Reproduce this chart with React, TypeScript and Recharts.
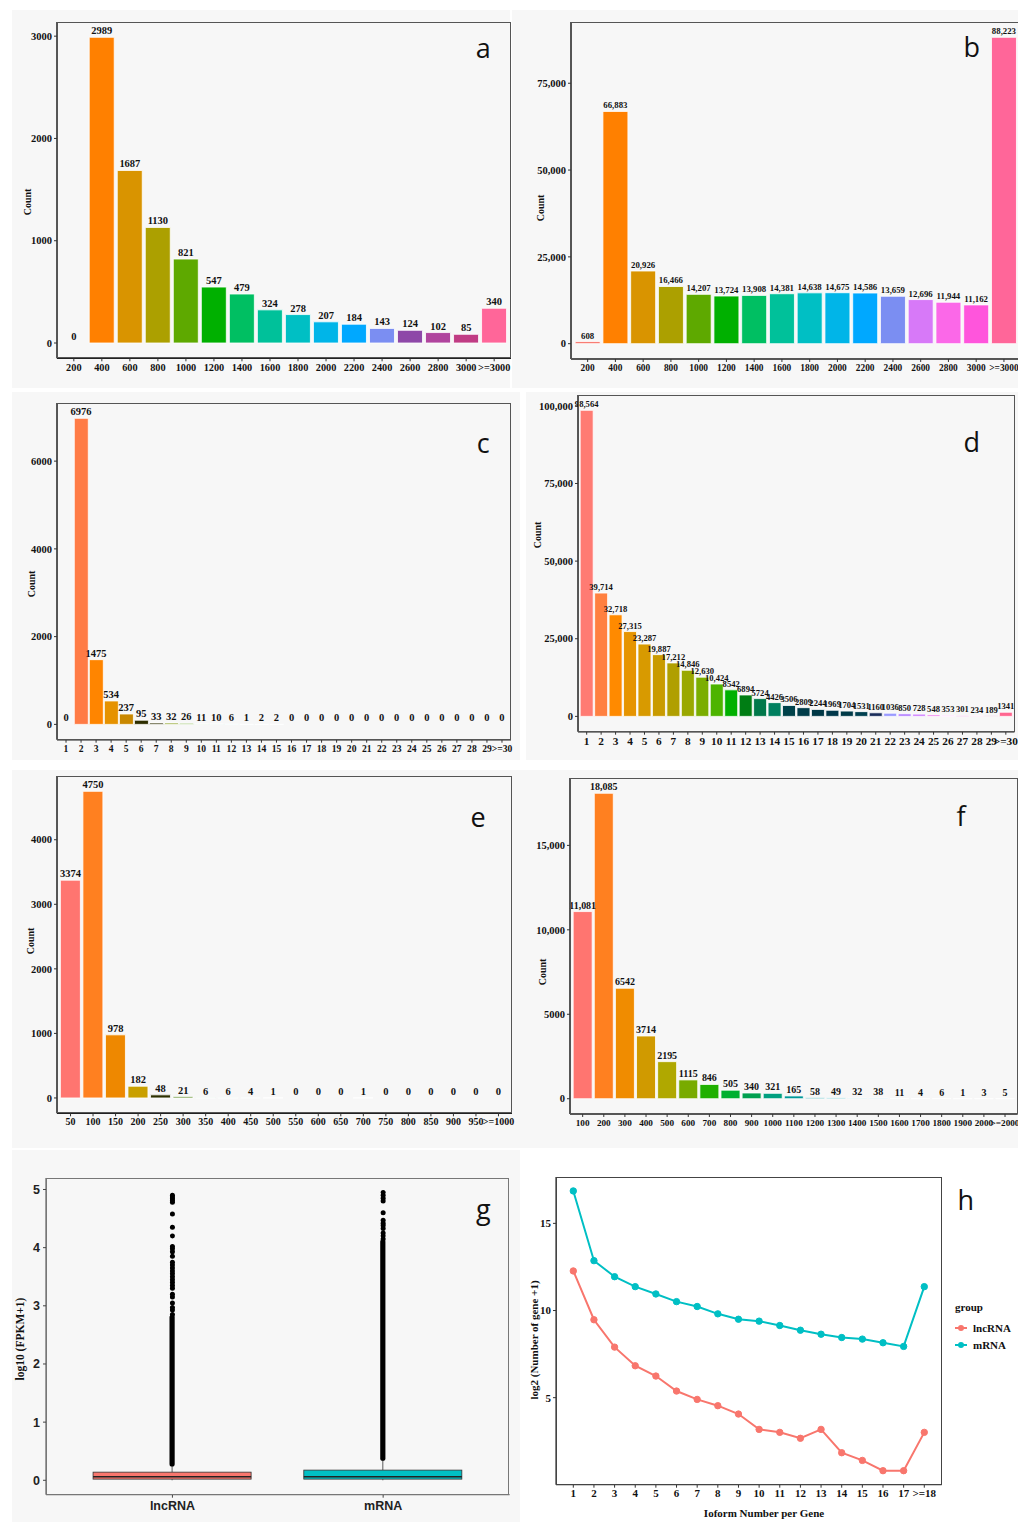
import React from 'react';
import { Bar, XAxis, YAxis, Cell, ComposedChart, Scatter, LineChart, Line } from 'recharts';

// ---------------- DATA ----------------
const aCats = ['200', '400', '600', '800', '1000', '1200', '1400', '1600', '1800', '2000', '2200', '2400', '2600', '2800', '3000', '>=3000'];
const aValues = [0, 2989, 1687, 1130, 821, 547, 479, 324, 278, 207, 184, 143, 124, 102, 85, 340];

const bCats = ['200', '400', '600', '800', '1000', '1200', '1400', '1600', '1800', '2000', '2200', '2400', '2600', '2800', '3000', '>=3000'];
const bValues = [608, 66883, 20926, 16466, 14207, 13724, 13908, 14381, 14638, 14675, 14586, 13659, 12696, 11944, 11162, 88223];

const cCats = ['1', '2', '3', '4', '5', '6', '7', '8', '9', '10', '11', '12', '13', '14', '15', '16', '17', '18', '19', '20', '21', '22', '23', '24', '25', '26', '27', '28', '29', '>=30'];
const cValues = [0, 6976, 1475, 534, 237, 95, 33, 32, 26, 11, 10, 6, 1, 2, 2, 0, 0, 0, 0, 0, 0, 0, 0, 0, 0, 0, 0, 0, 0, 0];

const dCats = ['1', '2', '3', '4', '5', '6', '7', '8', '9', '10', '11', '12', '13', '14', '15', '16', '17', '18', '19', '20', '21', '22', '23', '24', '25', '26', '27', '28', '29', '>=30'];
const dValues = [98564, 39714, 32718, 27315, 23287, 19887, 17212, 14846, 12630, 10424, 8542, 6894, 5724, 4426, 3506, 2809, 2244, 1969, 1704, 1531, 1160, 1036, 850, 728, 548, 353, 301, 234, 189, 1341];

const eCats = ['50', '100', '150', '200', '250', '300', '350', '400', '450', '500', '550', '600', '650', '700', '750', '800', '850', '900', '950', '>=1000'];
const eValues = [3374, 4750, 978, 182, 48, 21, 6, 6, 4, 1, 0, 0, 0, 1, 0, 0, 0, 0, 0, 0];

const fCats = ['100', '200', '300', '400', '500', '600', '700', '800', '900', '1000', '1100', '1200', '1300', '1400', '1500', '1600', '1700', '1800', '1900', '2000', '>=2000'];
const fValues = [11081, 18085, 6542, 3714, 2195, 1115, 846, 505, 340, 321, 165, 58, 49, 32, 38, 11, 4, 6, 1, 3, 5];

const gCats = ['lncRNA', 'mRNA'];
const gMin = [0, 0];
const gQ1 = [0.02, 0.02];
const gMedian = [0.06, 0.06];
const gQ3 = [0.14, 0.175];
const gWhiskerHi = [0.28, 0.38];
const gDenseLo = [0.28, 0.38];
const gDenseHi = [2.8, 4.1];
const gLncOutliers = [2.85, 2.93, 2.97, 3.05, 3.15, 3.2, 3.3, 3.35, 3.4, 3.45, 3.5, 3.55, 3.6, 3.65, 3.7, 3.75, 3.85, 3.93, 3.98, 4.02, 4.2, 4.35, 4.58, 4.78, 4.81, 4.84, 4.87, 4.9];
const gMrnaOutliers = [4.15, 4.2, 4.25, 4.33, 4.38, 4.42, 4.47, 4.6, 4.8, 4.85, 4.9, 4.95];

const hCats = ['1', '2', '3', '4', '5', '6', '7', '8', '9', '10', '11', '12', '13', '14', '15', '16', '17', '>=18'];
const hLnc = [12.27, 9.47, 7.9, 6.83, 6.24, 5.38, 4.9, 4.54, 4.06, 3.18, 3.01, 2.67, 3.18, 1.84, 1.4, 0.81, 0.81, 3.01];
const hMrna = [16.86, 12.86, 11.94, 11.37, 10.95, 10.51, 10.23, 9.81, 9.5, 9.39, 9.14, 8.87, 8.64, 8.45, 8.36, 8.15, 7.94, 11.37];

// ---------------- STYLES ----------------
const aColors = ['#F8766D', '#FF8000', '#D99400', '#ACA000', '#5EA900', '#00B000', '#00BF62', '#00C19A', '#00BFC4', '#00B5E8', '#00A8FF', '#7B8EF2', '#8E48A8', '#B0449E', '#C03C84', '#FF6699'];
const bColors = ['#F8766D', '#FF8000', '#D99400', '#ACA000', '#5EA900', '#00B000', '#00BF62', '#00C19A', '#00BFC4', '#00B5E8', '#00A8FF', '#7B8EF2', '#D779F8', '#FB68E8', '#FF55DC', '#FF6699'];
const cColors = ['#F8766D', '#FF7B45', '#FF8500', '#E69200', '#C98800', '#2E2E00', '#3A3A10', '#8EA52A', '#7CB342', '#A8D8A8', '#A8D8C8', '#B0E0D8', '#C8E8E0', '#D0ECE8', '#D8F0EC', '#ddd', '#ddd', '#ddd', '#ddd', '#ddd', '#ddd', '#ddd', '#ddd', '#ddd', '#ddd', '#ddd', '#ddd', '#ddd', '#ddd', '#ddd'];
const dColors = ['#FF7B73', '#FF8040', '#FF8A00', '#E69400', '#D89A00', '#C99B00', '#B09F00', '#9AA800', '#7BAE00', '#4DB400', '#00B000', '#007D14', '#00784A', '#008060', '#00424A', '#003D4A', '#003846', '#00384A', '#003A48', '#004050', '#1A2D5A', '#9A9AFF', '#B583FF', '#D183FF', '#F08AF0', '#FFB8FF', '#E070D0', '#FF99D8', '#C07AA8', '#FF6690'];
const eColors = ['#FF7570', '#FF8020', '#EE8800', '#C9A000', '#2C3000', '#5A8A20', '#90C8A0', '#A0D0B8', '#A8D8C8', '#B8E4E0', '#ccc', '#ccc', '#ccc', '#B8E4E0', '#ccc', '#ccc', '#ccc', '#ccc', '#ccc', '#ccc'];
const fColors = ['#FF7570', '#FF8020', '#F08C00', '#D09A00', '#B0A800', '#78AB00', '#20B000', '#00B030', '#00A050', '#00A080', '#009999', '#0098A0', '#00A0B0', '#40B8D0', '#70C8E0', '#A0D8F0', '#C0E0F0', '#C8E0F0', '#D0E4F0', '#D8E8F0', '#E0ECF4'];
const LNC = '#F8766D';
const MRNA = '#00BFC4';

const SERIF = '"Liberation Serif", "Times New Roman", serif';
const SANS = '"Liberation Sans", Arial, sans-serif';
const LETTER = '"Open Sans", "DejaVu Sans", sans-serif';

const fmt = (v: any) => {
  const n = Number(v);
  return n >= 10000 ? String(n).replace(/\B(?=(\d{3})+(?!\d))/g, ',') : String(n);
};

type Frame = { x0: number; y0: number; x1: number; y1: number };
const LM = 70, TM = 12, RM = 12, BM = 32, YW = 60, XH = 28;

const frames: Record<string, Frame> = {
  a: { x0: 56.7, y0: 21.7, x1: 510.7, y1: 358 },
  b: { x0: 571, y0: 22.3, x1: 1020.6, y1: 359.3 },
  c: { x0: 56.7, y0: 403.3, x1: 510.7, y1: 740 },
  d: { x0: 578, y0: 395, x1: 1014.5, y1: 731.7 },
  e: { x0: 56.7, y0: 776, x1: 511.7, y1: 1113.3 },
  f: { x0: 570, y0: 778.3, x1: 1017.7, y1: 1114.3 },
  g: { x0: 45.7, y0: 1178.3, x1: 509.3, y1: 1495 },
  h: { x0: 556, y0: 1177.3, x1: 941.7, y1: 1485 },
};

const tickStyle = (size: number) => ({ fontFamily: SERIF, fontWeight: 700, fontSize: size, fill: '#111' });

function chartGeom(f: Frame) {
  return {
    left: f.x0 - LM,
    top: f.y0 - TM,
    width: f.x1 - f.x0 + LM + RM,
    height: f.y1 - f.y0 + TM + BM,
    margin: { top: TM, right: RM, left: LM - YW, bottom: BM - XH },
  };
}

// value label drawn at each data point (top of the bar), including zero-valued bars
const makeLabel = (size: number) => (p: any) => {
  const { cx, cy, payload } = p;
  if (cx == null || cy == null) return <g />;
  return (
    <text x={cx} y={cy - 3} textAnchor="middle" fill="#111" fontFamily={SERIF} fontWeight={700} fontSize={size}>
      {fmt(payload.v)}
    </text>
  );
};

function BarPanel(props: { frame: Frame; cats: string[]; values: number[]; colors: string[]; domain: [number, number]; ticks: number[]; labelSize: number; tickSize?: number }) {
  const { frame, cats, values, colors, domain, ticks, labelSize } = props;
  const tickSize = props.tickSize ?? 10.5;
  const g = chartGeom(frame);
  const PW = frame.x1 - frame.x0;
  const u = PW / (cats.length + 0.2);
  const pad = 0.1 * u;
  const data = cats.map((c, i) => ({ cat: c, v: values[i] }));
  return (
    <div style={{ position: 'absolute', left: g.left, top: g.top }}>
      <ComposedChart width={g.width} height={g.height} data={data} margin={g.margin} barCategoryGap="5%">
        <XAxis dataKey="cat" interval={0} padding={{ left: pad, right: pad }} height={XH} tickSize={3} tickMargin={2}
          axisLine={{ stroke: '#222', strokeWidth: 1.5 }} tickLine={{ stroke: '#333' }} tick={tickStyle(tickSize)} />
        <YAxis width={YW} type="number" domain={domain} ticks={ticks} allowDataOverflow tickFormatter={fmt} tickSize={3} tickMargin={2}
          axisLine={{ stroke: '#222', strokeWidth: 1.5 }} tickLine={{ stroke: '#333' }} tick={tickStyle(10.5)} />
        <Bar dataKey="v" isAnimationActive={false} stroke="#fff" strokeWidth={0.8}>
          {data.map((d, i) => <Cell key={i} fill={colors[i]} />)}
        </Bar>
        <Scatter dataKey="v" shape={makeLabel(labelSize)} isAnimationActive={false} />
      </ComposedChart>
    </div>
  );
}

function BoxShape(props: any) {
  const { x, y, width, height, payload } = props;
  const [lo, hi] = payload.span;
  const py = (v: number) => y + (height * (hi - v)) / (hi - lo);
  const cx = x + width / 2;
  return (
    <g>
      <line x1={cx} x2={cx} y1={py(payload.min)} y2={py(payload.q1)} stroke="#333" strokeWidth={0.8} />
      <line x1={cx} x2={cx} y1={py(payload.q3)} y2={py(payload.wHi)} stroke="#333" strokeWidth={0.8} />
      <rect x={cx - 2.6} y={py(payload.dHi) - 2.6} width={5.2} height={py(payload.dLo) - py(payload.dHi) + 5.2} rx={2.6} fill="#000" />
      <rect x={x} y={py(payload.q3)} width={width} height={py(payload.q1) - py(payload.q3)} fill={payload.fill} stroke="#333" strokeWidth={0.8} />
      <line x1={x} x2={x + width} y1={py(payload.med)} y2={py(payload.med)} stroke="#222" strokeWidth={1.6} />
    </g>
  );
}

function GPanel() {
  const frame = frames.g;
  const g = chartGeom(frame);
  const PW = frame.x1 - frame.x0;
  const u = PW / (gCats.length + 0.2);
  const pad = 0.1 * u;
  const fills = [LNC, MRNA];
  const data = gCats.map((c, i) => ({
    cat: c, span: [gMin[i], gDenseHi[i]], min: gMin[i], q1: gQ1[i], med: gMedian[i], q3: gQ3[i],
    wHi: gWhiskerHi[i], dLo: gDenseLo[i], dHi: gDenseHi[i], fill: fills[i],
  }));
  const lncPts = gLncOutliers.map((v) => ({ cat: 'lncRNA', v }));
  const mrnaPts = gMrnaOutliers.map((v) => ({ cat: 'mRNA', v }));
  const dot = (p: any) => <circle cx={p.cx} cy={p.cy} r={2.5} fill="#000" />;
  return (
    <div style={{ position: 'absolute', left: g.left, top: g.top }}>
      <ComposedChart width={g.width} height={g.height} data={data} margin={g.margin}>
        <XAxis dataKey="cat" type="category" allowDuplicatedCategory={false} interval={0} padding={{ left: pad, right: pad }} height={XH} tickSize={3} tickMargin={3}
          axisLine={{ stroke: '#444', strokeWidth: 1 }} tickLine={{ stroke: '#444' }} tick={{ fontFamily: SANS, fontWeight: 700, fontSize: 12.5, fill: '#222' }} />
        <YAxis width={YW} type="number" domain={[-0.2475, 5.1975]} ticks={[0, 1, 2, 3, 4, 5]} allowDataOverflow tickSize={3} tickMargin={3}
          axisLine={{ stroke: '#444', strokeWidth: 1 }} tickLine={{ stroke: '#444' }} tick={{ fontFamily: SANS, fontWeight: 700, fontSize: 12.5, fill: '#222' }} />
        <Bar dataKey="span" barSize={0.75 * u} shape={BoxShape} isAnimationActive={false} />
        <Scatter data={lncPts} dataKey="v" shape={dot} isAnimationActive={false} />
        <Scatter data={mrnaPts} dataKey="v" shape={dot} isAnimationActive={false} />
      </ComposedChart>
    </div>
  );
}

function HPanel() {
  const frame = frames.h;
  const g = chartGeom(frame);
  const data = hCats.map((c, i) => ({ cat: c, lnc: hLnc[i], mrna: hMrna[i] }));
  return (
    <div style={{ position: 'absolute', left: g.left, top: g.top }}>
      <LineChart width={g.width} height={g.height} data={data} margin={g.margin}>
        <XAxis dataKey="cat" interval={0} padding={{ left: 17.3, right: 17.4 }} height={XH} tickSize={3} tickMargin={2}
          axisLine={{ stroke: '#333', strokeWidth: 1.2 }} tickLine={{ stroke: '#333' }} tick={tickStyle(11)} />
        <YAxis width={YW} type="number" domain={[0.0075, 17.66]} ticks={[5, 10, 15]} allowDataOverflow tickSize={3} tickMargin={2}
          axisLine={{ stroke: '#333', strokeWidth: 1.2 }} tickLine={{ stroke: '#333' }} tick={tickStyle(11)} />
        <Line dataKey="lnc" stroke={LNC} strokeWidth={2} dot={{ r: 3.2, fill: LNC, stroke: LNC, strokeWidth: 1 }} isAnimationActive={false} />
        <Line dataKey="mrna" stroke={MRNA} strokeWidth={2} dot={{ r: 3.2, fill: MRNA, stroke: MRNA, strokeWidth: 1 }} isAnimationActive={false} />
      </LineChart>
    </div>
  );
}

function FrameBox({ f, color = '#555', w = 1 }: { f: Frame; color?: string; w?: number }) {
  return <div style={{ position: 'absolute', left: f.x0, top: f.y0, width: f.x1 - f.x0, height: f.y1 - f.y0, border: `${w}px solid ${color}`, boxSizing: 'border-box', pointerEvents: 'none' }} />;
}

function VLabel({ x, y, text, size = 10, font = SERIF }: { x: number; y: number; text: string; size?: number; font?: string }) {
  return (
    <div style={{ position: 'absolute', left: x, top: y, transform: 'translate(-50%, -50%) rotate(-90deg)', whiteSpace: 'nowrap', fontFamily: font, fontWeight: 700, fontSize: size, color: '#111', lineHeight: 1 }}>{text}</div>
  );
}

function Letter({ x, y, ch }: { x: number; y: number; ch: string }) {
  return (
    <div style={{ position: 'absolute', left: x, top: y, transform: 'translate(-50%, -50%)', fontFamily: LETTER, fontSize: 27, lineHeight: 1, color: '#111' }}>{ch}</div>
  );
}

function Bg({ x, y, w, h }: { x: number; y: number; w: number; h: number }) {
  return <div style={{ position: 'absolute', left: x, top: y, width: w, height: h, background: '#f7f7f7' }} />;
}

export default function App() {
  return (
    <div style={{ position: 'absolute', left: 0, top: 0, width: 1018, height: 1522, overflow: 'hidden', background: '#fff' }}>
      <Bg x={12} y={10} w={498} h={378} />
      <Bg x={512} y={10} w={506} h={378} />
      <Bg x={12} y={392} w={508} h={368} />
      <Bg x={526} y={392} w={492} h={368} />
      <Bg x={12} y={770} w={508} h={378} />
      <Bg x={520} y={770} w={498} h={378} />
      <Bg x={12} y={1150} w={508} h={372} />

      <BarPanel frame={frames.a} cats={aCats} values={aValues} colors={aColors} domain={[-149.45, 3138.45]} ticks={[0, 1000, 2000, 3000]} labelSize={10.5} tickSize={10.3} />
      <BarPanel frame={frames.b} cats={bCats} values={bValues} colors={bColors} domain={[-4411, 92634]} ticks={[0, 25000, 50000, 75000]} labelSize={8.8} tickSize={9.4} />
      <BarPanel frame={frames.c} cats={cCats} values={cValues} colors={cColors} domain={[-348.8, 7324.8]} ticks={[0, 2000, 4000, 6000]} labelSize={10.5} tickSize={9.6} />
      <BarPanel frame={frames.d} cats={dCats} values={dValues} colors={dColors} domain={[-4928, 103492]} ticks={[0, 25000, 50000, 75000, 100000]} labelSize={8.6} tickSize={11.3} />
      <BarPanel frame={frames.e} cats={eCats} values={eValues} colors={eColors} domain={[-237.5, 4987.5]} ticks={[0, 1000, 2000, 3000, 4000]} labelSize={10.5} tickSize={10} />
      <BarPanel frame={frames.f} cats={fCats} values={fValues} colors={fColors} domain={[-904, 18989]} ticks={[0, 5000, 10000, 15000]} labelSize={10} tickSize={9.2} />
      <GPanel />
      <HPanel />

      <FrameBox f={frames.a} />
      <FrameBox f={frames.b} />
      <FrameBox f={frames.c} />
      <FrameBox f={frames.d} />
      <FrameBox f={frames.e} />
      <FrameBox f={frames.f} />
      <FrameBox f={frames.g} color="#777" />
      <FrameBox f={frames.h} color="#444" />

      <VLabel x={28.3} y={201.7} text="Count" />
      <VLabel x={540.7} y={208} text="Count" />
      <VLabel x={32.3} y={584} text="Count" />
      <VLabel x={538.3} y={535} text="Count" />
      <VLabel x={30.7} y={941} text="Count" />
      <VLabel x={542.7} y={971.5} text="Count" />
      <VLabel x={20.7} y={1339} text="log10 (FPKM+1)" size={11.5} />
      <VLabel x={534} y={1339.5} text="log2 (Number of gene +1)" size={11} />

      <div style={{ position: 'absolute', left: 764, top: 1512.7, transform: 'translate(-50%, -50%)', whiteSpace: 'nowrap', fontFamily: SERIF, fontWeight: 700, fontSize: 11, color: '#111', lineHeight: 1 }}>Ioform Number per Gene</div>

      {/* legend h */}
      <div style={{ position: 'absolute', left: 955, top: 1302, fontFamily: SERIF, fontWeight: 700, fontSize: 11, color: '#111', lineHeight: 1 }}>group</div>
      {[{ t: 'lncRNA', c: LNC, y: 1327.7 }, { t: 'mRNA', c: MRNA, y: 1345 }].map((it) => (
        <div key={it.t} style={{ position: 'absolute', left: 954, top: it.y - 7, height: 14, display: 'flex', alignItems: 'center' }}>
          <svg width={14} height={14}>
            <line x1={1} x2={13} y1={7} y2={7} stroke={it.c} strokeWidth={2} />
            <circle cx={7} cy={7} r={3} fill={it.c} />
          </svg>
          <span style={{ marginLeft: 5, fontFamily: SERIF, fontWeight: 700, fontSize: 11, color: '#111' }}>{it.t}</span>
        </div>
      ))}

      <Letter x={483.3} y={47} ch="a" />
      <Letter x={971.7} y={46} ch="b" />
      <Letter x={483.3} y={442} ch="c" />
      <Letter x={971.7} y={441} ch="d" />
      <Letter x={478} y={816} ch="e" />
      <Letter x={961} y={815} ch="f" />
      <Letter x={483.3} y={1208} ch="g" />
      <Letter x={965.7} y={1199} ch="h" />
    </div>
  );
}
